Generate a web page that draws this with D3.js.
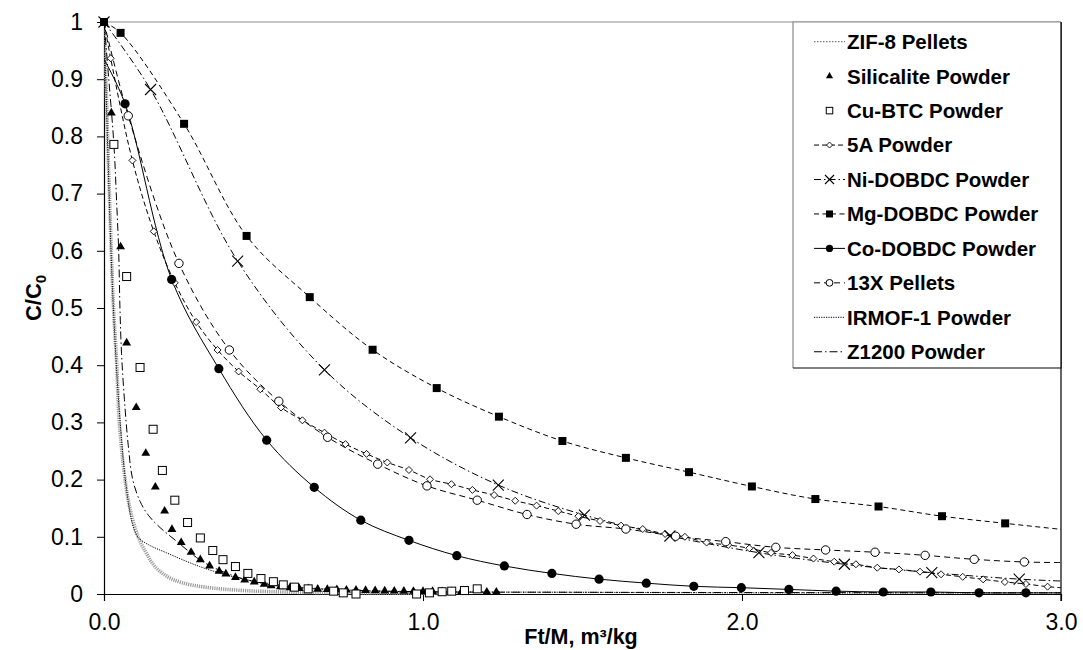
<!DOCTYPE html>
<html><head><meta charset="utf-8">
<script src="https://cdn.jsdelivr.net/npm/d3@7"></script>
<style>
body{margin:0;background:#fff}
svg{display:block;font-family:Arial,"Liberation Sans",sans-serif}
</style>
</head><body>
<svg id="chart" width="1083" height="650"></svg>
<script>
// ---- Breakthrough data: C/C0 versus Ft/M (m3/kg) ----
const xTickValues = [0, 1, 2, 3];
const xTickLabels = ["0.0", "1.0", "2.0", "3.0"];
const yTickValues = [0, 0.1, 0.2, 0.3, 0.4, 0.5, 0.6, 0.7, 0.8, 0.9, 1];
const yTickLabels = ["0", "0.1", "0.2", "0.3", "0.4", "0.5", "0.6", "0.7", "0.8", "0.9", "1"];

const legendNames = ["ZIF-8 Pellets", "Silicalite Powder", "Cu-BTC Powder", "5A Powder",
  "Ni-DOBDC Powder", "Mg-DOBDC Powder", "Co-DOBDC Powder", "13X Pellets",
  "IRMOF-1 Powder", "Z1200 Powder"];

// ZIF-8 pellets (curve only)
const zif8Curve = [[0,1],[0.006,0.9],[0.017,0.7],[0.029,0.51],[0.04,0.4],[0.048,0.3],[0.066,0.2],
  [0.081,0.15],[0.107,0.1],[0.134,0.07],[0.16,0.048],[0.2,0.03],[0.243,0.02],[0.317,0.012],
  [0.44,0.006],[0.6,0.003],[0.8,0.002],[1.1,0.001]];

// Silicalite powder (markers only)
const silicaliteMarks = [[0.023,0.841],[0.052,0.607],[0.071,0.439],[0.101,0.326],[0.131,0.246],
  [0.161,0.187],[0.190,0.145],[0.213,0.113],[0.242,0.090],[0.273,0.073],[0.302,0.060],
  [0.331,0.049],[0.361,0.040],[0.382,0.035],[0.412,0.029],[0.441,0.0245],[0.471,0.021],
  [0.502,0.017],[0.524,0.0145],[0.553,0.0128],[0.583,0.011],[0.612,0.0098],[0.641,0.0092],
  [0.67,0.0086],[0.70,0.008],[0.73,0.0075],[0.76,0.007],[0.79,0.0066],[0.82,0.0062],
  [0.85,0.0058],[0.88,0.0055],[0.91,0.0052],[0.94,0.005],[0.97,0.0048],[1.0,0.0046],
  [1.03,0.0044],[1.06,0.0042],[1.09,0.004],[1.12,0.0038],[1.20,0.0035],[1.23,0.0034]];

// Cu-BTC powder (markers only)
const cuBtcMarks = [[0.031,0.786],[0.071,0.555],[0.113,0.396],[0.154,0.288],[0.183,0.216],
  [0.222,0.164],[0.262,0.125],[0.302,0.098],[0.341,0.076],[0.373,0.060],[0.412,0.048],
  [0.451,0.036],[0.492,0.027],[0.531,0.0215],[0.562,0.016],[0.597,0.012],[0.64,0.009],
  [0.72,0.005],[0.75,0.002],[0.79,0.0],[0.98,0.0],[1.02,0.002],[1.06,0.004],[1.09,0.005],
  [1.13,0.006],[1.17,0.009]];

// 5A powder
const a5Marks = [[0.021,0.9365],[0.089,0.758],[0.156,0.634],[0.222,0.544],[0.289,0.4755],
  [0.356,0.4266],[0.422,0.389],[0.490,0.358],[0.555,0.326],[0.622,0.3037],[0.691,0.282],
  [0.757,0.262],[0.823,0.245],[0.888,0.230],[0.956,0.2168],[1.022,0.2005],[1.089,0.192],
  [1.155,0.182],[1.223,0.173],[1.289,0.163],[1.356,0.1545],[1.424,0.145],[1.487,0.136],
  [1.555,0.1276],[1.621,0.1195],[1.689,0.1136],[1.759,0.105],[1.821,0.100],[1.889,0.090],
  [1.957,0.0857],[2.023,0.080],[2.091,0.072],[2.158,0.068],[2.224,0.062],[2.289,0.0565],
  [2.357,0.052],[2.424,0.046],[2.492,0.043],[2.558,0.039],[2.624,0.0344],[2.692,0.030],
  [2.756,0.0256],[2.824,0.021],[2.890,0.0175],[2.958,0.0128]];
const a5Ends = [[0,1],[3.0,0.011]];

// Ni-DOBDC powder
const niMarks = [[0,1],[0.146,0.882],[0.419,0.582],[0.691,0.392],[0.961,0.273],[1.236,0.1905],
  [1.506,0.138],[1.774,0.1014],[2.053,0.0722],[2.321,0.052],[2.595,0.0373],[2.869,0.026]];
const niEnds = [null,[3.0,0.0227]];

// Mg-DOBDC powder
const mgMarks = [[0,1],[0.052,0.981],[0.251,0.822],[0.447,0.626],[0.645,0.519],[0.842,0.427],
  [1.043,0.360],[1.238,0.310],[1.437,0.2675],[1.636,0.238],[1.834,0.213],[2.031,0.188],
  [2.230,0.166],[2.428,0.153],[2.627,0.136],[2.825,0.1235]];
const mgEnds = [null,[3.0,0.113]];

// Co-DOBDC powder
const coMarks = [[0.066,0.857],[0.212,0.550],[0.360,0.394],[0.510,0.269],[0.659,0.1865],
  [0.805,0.129],[0.956,0.0938],[1.106,0.067],[1.255,0.049],[1.404,0.036],[1.552,0.026],
  [1.70,0.019],[1.849,0.0134],[1.998,0.011],[2.147,0.008],[2.295,0.005],[2.443,0.0035],
  [2.592,0.0035],[2.743,0.002],[2.890,0.002]];
const coEnds = [[0,0.935],[3.0,0.002]];

// 13X pellets
const x13Marks = [[0.076,0.836],[0.235,0.578],[0.393,0.4266],[0.548,0.337],[0.701,0.274],
  [0.858,0.227],[1.0125,0.189],[1.170,0.164],[1.326,0.139],[1.480,0.122],[1.636,0.1136],
  [1.792,0.101],[1.949,0.0915],[2.106,0.0816],[2.262,0.077],[2.417,0.073],[2.574,0.0676],
  [2.728,0.0606],[2.885,0.056]];
const x13Ends = [[0,1],[3.0,0.055]];

// IRMOF-1 powder (curve only)
const irmofCurve = [[0,1],[0.008,0.85],[0.016,0.7],[0.024,0.57],[0.032,0.47],[0.042,0.37],
  [0.052,0.29],[0.063,0.22],[0.075,0.165],[0.088,0.125],[0.1,0.105],[0.11,0.097],
  [0.14,0.086],[0.196,0.072],[0.30,0.048],[0.405,0.030],[0.51,0.019],[0.614,0.012],
  [0.8,0.006],[1.0,0.004],[1.5,0.003],[2.0,0.002],[3.0,0.002]];

// Z1200 powder (curve only)
const z1200Curve = [[0,1],[0.015,0.9],[0.031,0.786],[0.040,0.68],[0.046,0.6],[0.050,0.5],
  [0.055,0.42],[0.064,0.34],[0.076,0.26],[0.09,0.2],[0.113,0.162],[0.14,0.137],
  [0.176,0.116],[0.228,0.092],[0.30,0.060],[0.36,0.042],[0.44,0.026],[0.55,0.014],
  [0.7,0.008],[1.0,0.004],[1.5,0.003],[3.0,0.002]];

// ---- Layout ----
const svg = d3.select("#chart");
const L = 104, R = 1061, T = 22, B = 594;
const x = d3.scaleLinear().domain([0, 3]).range([L, R]);
const y = d3.scaleLinear().domain([0, 1]).range([B, T]);

svg.append("defs").append("clipPath").attr("id", "plotClip")
  .append("rect").attr("x", L).attr("y", T - 6).attr("width", R - L).attr("height", B - T + 9);

// Marker painters
const markers = {
  tri: (g, s) => g.append("path").attr("d", d3.symbol(d3.symbolTriangle, s || 34)()).attr("fill", "#000"),
  sqOpen: (g, s) => { const h = (s || 8) / 2; g.append("rect").attr("x", -h).attr("y", -h).attr("width", 2*h).attr("height", 2*h).attr("fill", "#fff").attr("stroke", "#000").attr("stroke-width", 1); },
  sqFill: (g, s) => { const h = (s || 8) / 2; g.append("rect").attr("x", -h).attr("y", -h).attr("width", 2*h).attr("height", 2*h).attr("fill", "#000"); },
  diamond: (g, s) => { const h = (s || 7) / 2; g.append("path").attr("d", `M0,${-h}L${h},0L0,${h}L${-h},0Z`).attr("fill", "#fff").attr("stroke", "#000").attr("stroke-width", 0.9); },
  cross: (g, s) => { const h = (s || 11) / 2; g.append("path").attr("d", `M${-h},${-h}L${h},${h}M${-h},${h}L${h},${-h}`).attr("stroke", "#000").attr("stroke-width", 1.1).attr("fill", "none"); },
  circFill: (g, s) => g.append("circle").attr("r", s || 4.6).attr("fill", "#000"),
  circOpen: (g, s) => g.append("circle").attr("r", s || 4.2).attr("fill", "#fff").attr("stroke", "#000").attr("stroke-width", 1)
};

function withEnds(marks, ends) {
  return (ends[0] ? [ends[0]] : []).concat(marks, ends[1] ? [ends[1]] : []);
}

// Series styles and data, in legend order
const series = [
  { name: legendNames[0], curve: zif8Curve, marks: [], marker: null,
    stroke: "#9a9a9a", width: 3.6, dash: "1.2,1", legendStroke: "#777", legendWidth: 1.2, legendDash: "1.5,1.5" },
  { name: legendNames[1], curve: null, marks: silicaliteMarks, marker: "tri", legendSize: 22 },
  { name: legendNames[2], curve: null, marks: cuBtcMarks, marker: "sqOpen", legendSize: 6.5 },
  { name: legendNames[3], curve: withEnds(a5Marks, a5Ends), marks: a5Marks, marker: "diamond",
    stroke: "#000", width: 1, dash: "5,3", legendSize: 6 },
  { name: legendNames[4], curve: withEnds(niMarks, niEnds), marks: niMarks, marker: "cross",
    stroke: "#000", width: 1, dash: "7,3,1.5,3", legendSize: 9 },
  { name: legendNames[5], curve: withEnds(mgMarks, mgEnds), marks: mgMarks, marker: "sqFill",
    stroke: "#000", width: 1, dash: "5,3.5", legendSize: 7 },
  { name: legendNames[6], curve: withEnds(coMarks, coEnds), marks: coMarks, marker: "circFill",
    stroke: "#000", width: 1, dash: null, legendSize: 3.6 },
  { name: legendNames[7], curve: withEnds(x13Marks, x13Ends), marks: x13Marks, marker: "circOpen",
    stroke: "#000", width: 1, dash: "6,4", legendSize: 3.4 },
  { name: legendNames[8], curve: irmofCurve, marks: [], marker: null,
    stroke: "#000", width: 1, dash: "1.2,1.2" },
  { name: legendNames[9], curve: z1200Curve, marks: [], marker: null,
    stroke: "#000", width: 1, dash: "8,3,1.5,3" }
];

// ---- Frame and axes ----
svg.append("line").attr("x1", L).attr("x2", R).attr("y1", T).attr("y2", T)
  .attr("stroke", "#8c8c8c").attr("stroke-width", 1.2);
svg.append("line").attr("x1", R).attr("x2", R).attr("y1", T).attr("y2", B + 7)
  .attr("stroke", "#000").attr("stroke-width", 1.2);

const yAxis = d3.axisLeft(y).tickValues(yTickValues).tickSize(7)
  .tickFormat((d, i) => yTickLabels[i]);
const gy = svg.append("g").attr("transform", `translate(${L},0)`).call(yAxis);
gy.select(".domain").attr("stroke", "#000").attr("stroke-width", 1.2);
gy.selectAll(".tick line").attr("stroke", "#000");
gy.selectAll("text").attr("font-size", 23).attr("fill", "#000").attr("x", -21)
  .attr("font-family", "Arial, 'Liberation Sans', sans-serif");

const xAxis = d3.axisBottom(x).tickValues(xTickValues).tickSize(7)
  .tickFormat((d, i) => xTickLabels[i]);
const gx = svg.append("g").attr("transform", `translate(0,${B})`).call(xAxis);
gx.select(".domain").attr("stroke", "#000").attr("stroke-width", 1.2);
gx.selectAll(".tick line").attr("stroke", "#000");
gx.selectAll("text").attr("font-size", 23).attr("fill", "#000").attr("y", 20)
  .attr("font-family", "Arial, 'Liberation Sans', sans-serif");

// Axis titles
svg.append("text").attr("x", 581).attr("y", 644).attr("text-anchor", "middle")
  .attr("font-size", 21.5).attr("font-weight", "bold").text("Ft/M, m³/kg");
const yt = svg.append("text").attr("transform", "translate(41,298) rotate(-90)")
  .attr("text-anchor", "middle").attr("font-size", 22).attr("font-weight", "bold");
yt.append("tspan").text("C/C");
yt.append("tspan").attr("font-size", 15).attr("dy", 5).text("0");

// ---- Curves ----
const line = d3.line().x(d => x(d[0])).y(d => y(d[1])).curve(d3.curveCatmullRom.alpha(0.5));
const plot = svg.append("g").attr("clip-path", "url(#plotClip)");
series.forEach(s => {
  if (!s.curve) return;
  plot.append("path").attr("d", line(s.curve)).attr("fill", "none")
    .attr("stroke", s.stroke).attr("stroke-width", s.width)
    .attr("stroke-dasharray", s.dash);
});

// ---- Markers ----
series.forEach(s => {
  if (!s.marker) return;
  const g = svg.append("g");
  s.marks.forEach(d => {
    const m = g.append("g").attr("transform", `translate(${x(d[0])},${y(d[1])})`);
    markers[s.marker](m);
  });
});

// ---- Legend ----
const lg = svg.append("g");
const lgL = 793, lgT = 22, lgR = 1061, lgB = 368;
lg.append("rect").attr("x", lgL).attr("y", lgT).attr("width", lgR - lgL).attr("height", lgB - lgT)
  .attr("fill", "#fff");
lg.append("path").attr("d", `M${lgL},${lgB}V${lgT}H${lgR}`).attr("fill", "none")
  .attr("stroke", "#8c8c8c").attr("stroke-width", 1.2);
lg.append("path").attr("d", `M${lgL},${lgB}H${lgR}V${lgT}`).attr("fill", "none")
  .attr("stroke", "#000").attr("stroke-width", 1.2);

const rowY = i => 41.7 + i * 34.45;
series.forEach((s, i) => {
  const cy = rowY(i);
  if (s.curve) {
    lg.append("line").attr("x1", 814).attr("x2", 845).attr("y1", cy).attr("y2", cy)
      .attr("stroke", s.legendStroke || s.stroke)
      .attr("stroke-width", s.legendWidth || 1)
      .attr("stroke-dasharray", s.legendDash || s.dash);
  }
  if (s.marker) {
    const m = lg.append("g").attr("transform", `translate(829.5,${cy})`);
    markers[s.marker](m, s.legendSize);
  }
  lg.append("text").attr("x", 847).attr("y", cy).attr("dy", "0.36em")
    .attr("font-size", 20.5).attr("font-weight", "bold").text(s.name);
});
</script>
</body></html>
